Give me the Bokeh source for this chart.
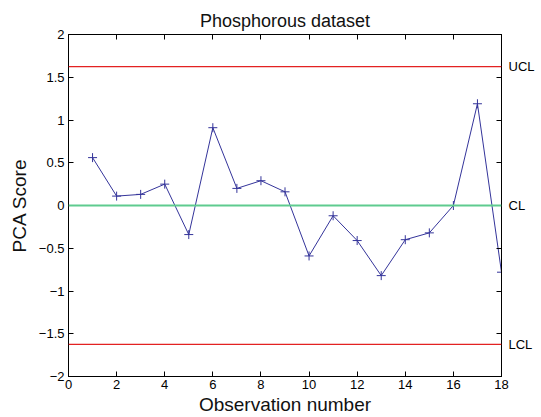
from bokeh.plotting import figure
from bokeh.models import LinearAxis, FixedTicker, Span, Range1d
from bokeh.embed import file_html
from bokeh.resources import INLINE

# ---- data ----
observations = list(range(1, 19))
pca_score = [0.56, 0.11, 0.13, 0.25, -0.34, 0.91, 0.20, 0.29, 0.16,
             -0.59, -0.12, -0.41, -0.82, -0.40, -0.32, 0.00, 1.19, -0.78]
limit_names = ["UCL", "CL", "LCL"]
limit_values = [1.625, 0.0, -1.625]
limit_colors = ["#e32222", "#5fcb8f", "#e32222"]
x_ticks = [0, 2, 4, 6, 8, 10, 12, 14, 16, 18]
y_ticks = [-2, -1.5, -1, -0.5, 0, 0.5, 1, 1.5, 2]
y_tick_labels = ["\u22122", "\u22121.5", "\u22121", "\u22120.5", "0", "0.5", "1", "1.5", "2"]

FONT = "Liberation Sans"
LINE_BLUE = "#34349a"

p = figure(width=541, height=417, output_backend="svg", toolbar_location=None,
           x_range=Range1d(0, 18), y_range=Range1d(-2, 2),
           min_border_left=68, min_border_right=40, min_border_top=34,
           min_border_bottom=41, background_fill_color="white",
           border_fill_color="white")

p.title.text = "Phosphorous dataset"
p.title.align = "center"
p.title.text_font = FONT
p.title.text_font_size = "18px"
p.title.text_font_style = "normal"
p.title.text_color = "#111111"
p.title.standoff = 8

p.xgrid.visible = False
p.ygrid.visible = False
p.outline_line_color = "black"

# bottom axis
xa = p.xaxis[0]
xa.ticker = FixedTicker(ticks=x_ticks)
xa.axis_label = "Observation number"
for ax in (p.xaxis[0], p.yaxis[0]):
    ax.major_tick_in = 5
    ax.major_tick_out = 0
    ax.minor_tick_line_color = None
    ax.axis_line_color = "black"
    ax.major_tick_line_color = "black"
    ax.major_label_text_font = FONT
    ax.major_label_text_font_size = "13px"
    ax.major_label_text_color = "black"
    ax.axis_label_text_font = FONT
    ax.axis_label_text_font_size = "19px"
    ax.axis_label_text_font_style = "normal"
    ax.axis_label_text_color = "#111111"
xa.major_label_standoff = 3
xa.axis_label_standoff = 2

ya = p.yaxis[0]
ya.ticker = FixedTicker(ticks=y_ticks)
ya.major_label_overrides = {t: l for t, l in zip(y_ticks, y_tick_labels)}
ya.axis_label = "PCA Score"
ya.major_label_standoff = 4
ya.axis_label_standoff = 6

# top axis: ticks only
top = LinearAxis(ticker=FixedTicker(ticks=[], minor_ticks=x_ticks),
                 minor_tick_in=5, minor_tick_out=0, major_tick_in=0, major_tick_out=0,
                 axis_line_color="black", minor_tick_line_color="black",
                 major_label_text_font_size="0px")
p.add_layout(top, "above")

# right axis: ticks + UCL/CL/LCL labels
right = LinearAxis(ticker=FixedTicker(ticks=limit_values, minor_ticks=y_ticks),
                   major_label_overrides={v: n for v, n in zip(limit_values, limit_names)},
                   minor_tick_in=5, minor_tick_out=0, major_tick_in=0, major_tick_out=0,
                   axis_line_color="black", minor_tick_line_color="black",
                   major_label_standoff=7, major_label_text_font=FONT,
                   major_label_text_font_size="13px", major_label_text_color="black")
p.add_layout(right, "right")

for v, c, w in zip(limit_values, limit_colors, [1.3, 2, 1.3]):
    p.add_layout(Span(location=v, dimension="width", line_color=c, line_width=w))

p.line(observations, pca_score, line_color=LINE_BLUE, line_width=1)
p.scatter(observations, pca_score, marker="cross", size=9, line_color=LINE_BLUE, line_width=1)

open("out.html", "w").write(file_html(p, INLINE))
